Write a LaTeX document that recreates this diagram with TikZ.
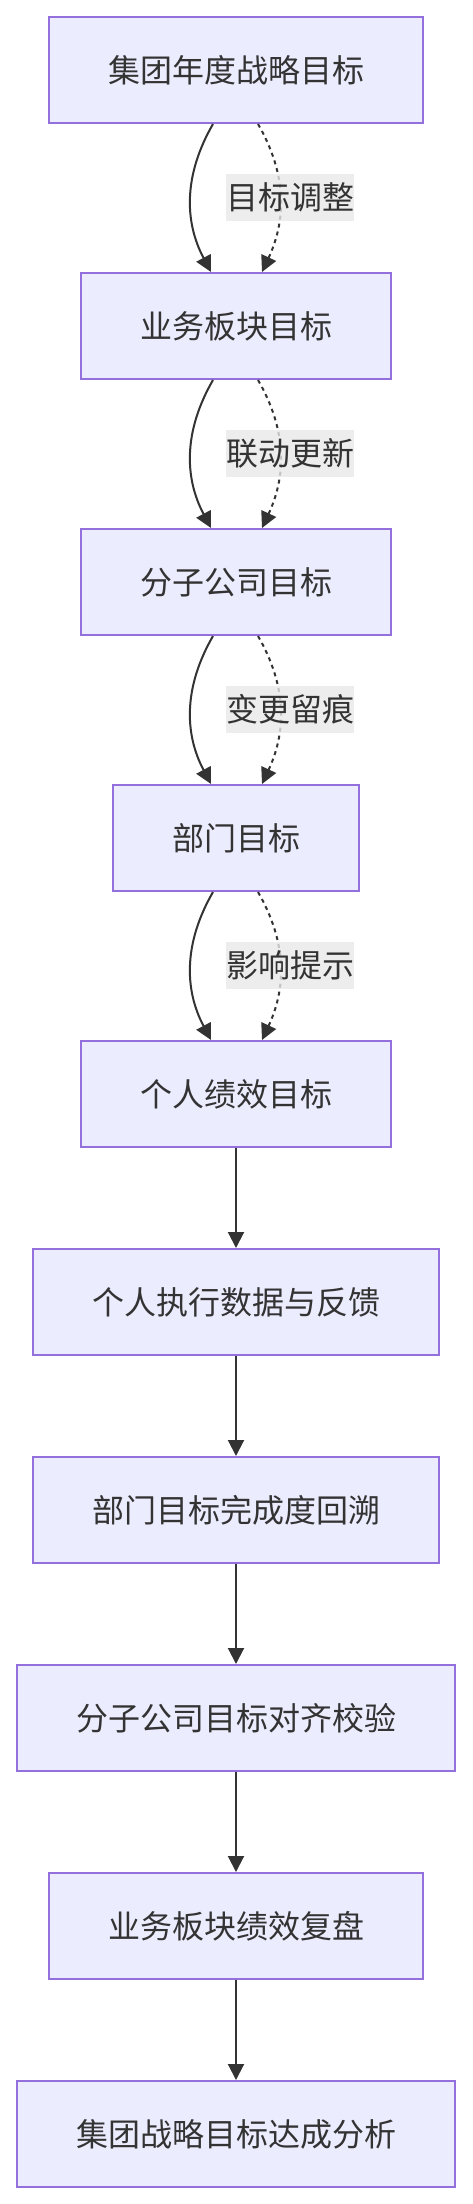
\documentclass[tikz,border=0pt]{standalone}
\usepackage{fontspec}
\setmainfont{Noto Sans CJK SC}
\usepackage{tikz}
\usetikzlibrary{arrows.meta,positioning}
\definecolor{BoxFill}{HTML}{ECECFF}
\definecolor{BoxLine}{HTML}{9370DB}
\definecolor{InkGrey}{HTML}{333333}
\definecolor{LblFill}{HTML}{E8E8E8}

\begin{document}
\begin{tikzpicture}[x=0.5pt,y=-0.5pt,
  goal/.style={draw=BoxLine,fill=BoxFill,line width=1pt,text=InkGrey,
    font=\fontsize{16pt}{19pt}\selectfont,minimum height=53pt,inner sep=0pt},
  flow/.style={-{Triangle[length=8pt,width=8pt]},draw=InkGrey,line width=1pt},
  trace/.style={flow,dash pattern=on 2pt off 2pt},
  lbl/.style={fill=LblFill,fill opacity=0.8,text opacity=1,text=InkGrey,
    font=\fontsize{16pt}{19pt}\selectfont,inner sep=0pt,minimum width=64pt,minimum height=23.5pt}]
  \useasboundingbox (0,0) rectangle (472,2204);
  % targets going down
  \node[goal,minimum width=187pt] (grp) at (236,70) {集团年度战略目标};
  \node[goal,minimum width=155pt,below=74pt of grp] (seg) {业务板块目标};
  \node[goal,minimum width=155pt,below=74pt of seg] (sub) {分子公司目标};
  \node[goal,minimum width=123pt,below=74pt of sub] (dept) {部门目标};
  \node[goal,minimum width=155pt,below=74pt of dept] (indiv) {个人绩效目标};
  % review going back up
  \node[goal,minimum width=203pt,below=50pt of indiv] (exec) {个人执行数据与反馈};
  \node[goal,minimum width=203pt,below=50pt of exec] (deptrev) {部门目标完成度回溯};
  \node[goal,minimum width=219pt,below=50pt of deptrev] (subchk) {分子公司目标对齐校验};
  \node[goal,minimum width=187pt,below=50pt of subchk] (segrev) {业务板块绩效复盘};
  \node[goal,minimum width=219pt,below=50pt of segrev] (grprev) {集团战略目标达成分析};
  % cascade with change notes
  \draw[flow] ([xshift=-11.5pt]grp.south) to[out=240,in=118] ([xshift=-12.5pt]seg.north);
  \draw[trace] ([xshift=11pt]grp.south) to[out=-60,in=65]
    node[lbl,xshift=5pt] {目标调整} ([xshift=13pt]seg.north);
  \draw[flow] ([xshift=-11.5pt]seg.south) to[out=240,in=118] ([xshift=-12.5pt]sub.north);
  \draw[trace] ([xshift=11pt]seg.south) to[out=-60,in=65]
    node[lbl,xshift=5pt] {联动更新} ([xshift=13pt]sub.north);
  \draw[flow] ([xshift=-11.5pt]sub.south) to[out=240,in=118] ([xshift=-12.5pt]dept.north);
  \draw[trace] ([xshift=11pt]sub.south) to[out=-60,in=65]
    node[lbl,xshift=5pt] {变更留痕} ([xshift=13pt]dept.north);
  \draw[flow] ([xshift=-11.5pt]dept.south) to[out=240,in=118] ([xshift=-12.5pt]indiv.north);
  \draw[trace] ([xshift=11pt]dept.south) to[out=-60,in=65]
    node[lbl,xshift=5pt] {影响提示} ([xshift=13pt]indiv.north);
  % plain chain
  \draw[flow] (indiv) -- (exec);
  \draw[flow] (exec) -- (deptrev);
  \draw[flow] (deptrev) -- (subchk);
  \draw[flow] (subchk) -- (segrev);
  \draw[flow] (segrev) -- (grprev);
\end{tikzpicture}
\end{document}
